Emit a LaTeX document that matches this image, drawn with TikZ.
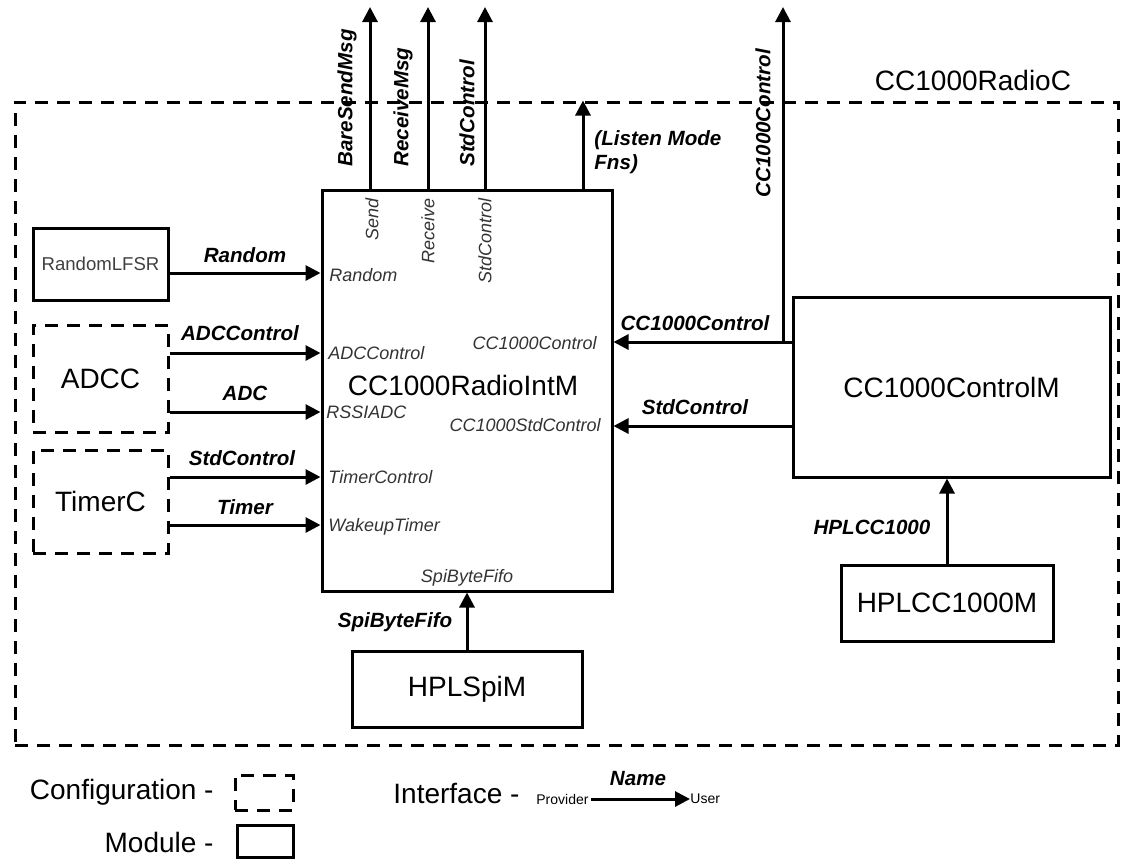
\documentclass[tikz,border=0pt]{standalone}
\usepackage{fontspec}
\setmainfont{Liberation Sans}
\usetikzlibrary{arrows.meta}
\begin{document}
\begin{tikzpicture}[x=0.5pt,y=-0.5pt,
  box/.style={draw, line width=1.5pt, inner sep=0pt},
  cfg/.style={box, dash pattern=on 6.5pt off 4.5pt},
  big/.style={font=\fontsize{14}{16}\selectfont},
  lbl/.style={font=\fontsize{10.3}{12}\selectfont\bfseries\itshape, inner sep=0pt},
  port/.style={font=\fontsize{9}{11}\selectfont\itshape, text=black!80, inner sep=0pt},
  small/.style={font=\fontsize{9.3}{11}\selectfont, text=black!75, inner sep=0pt},
  tiny/.style={font=\fontsize{7}{8}\selectfont, inner sep=0pt},
  arr/.style={line width=1.5pt, -{Triangle[length=7.5pt,width=7.5pt]}}]
\useasboundingbox (0,0) rectangle (1123,859);

% outer configuration
\node[cfg, minimum width=551.5pt, minimum height=321.5pt] (outer) at (566.5,423.5) {};
\node[big] (outerlbl) at (973,80) {CC1000RadioC};

% modules / configurations
\node[box, minimum width=145pt, minimum height=200.5pt] (intm) at (467,390.5) {};
\node[big] (intmlbl) at (463,385) {CC1000RadioIntM};
\node[box, minimum width=67.5pt, minimum height=36pt, small] (lfsr) at (100.5,264) {RandomLFSR};
\node[cfg, minimum width=67.5pt, minimum height=53.5pt, big] (adcc) at (100.5,378.5) {ADCC};
\node[cfg, minimum width=67.5pt, minimum height=51.5pt, big] (timerc) at (100.5,501.5) {TimerC};
\node[box, minimum width=158.5pt, minimum height=90pt, big] (ctrlm) at (951.5,387) {CC1000ControlM};
\node[box, minimum width=106pt, minimum height=38pt, big] (hplcc) at (947,603) {HPLCC1000M};
\node[box, minimum width=115pt, minimum height=38pt, big] (hplspi) at (467,689) {HPLSpiM};

% port labels inside CC1000RadioIntM
\node[port, anchor=west] (pRandom) at (329,275) {Random};
\node[port, anchor=west] (pADCControl) at (328,353) {ADCControl};
\node[port, anchor=west] (pRSSI) at (326,412) {RSSIADC};
\node[port, anchor=west] (pTimerControl) at (328,477) {TimerControl};
\node[port, anchor=west] (pWakeup) at (328,527) {WakeupTimer};
\node[port] (pSpi) at (467,578) {SpiByteFifo};
\node[port, anchor=east] (pCC) at (597,343) {CC1000Control};
\node[port, anchor=east] (pCCStd) at (601,425) {CC1000StdControl};
\node[port, rotate=90, anchor=east] (pSend) at (372,198) {Send};
\node[port, rotate=90, anchor=east] (pReceive) at (428,198) {Receive};
\node[port, rotate=90, anchor=east] (pStd) at (485,198) {StdControl};

% y levels of connectors
\coordinate (yRandom) at (0,273);
\coordinate (yADCControl) at (0,353);
\coordinate (yADC) at (0,412);
\coordinate (yStd) at (0,477);
\coordinate (yTimer) at (0,525);
\coordinate (yCC) at (783,342);
\coordinate (yCCStd) at (0,426);

% left connectors
\draw[arr] (lfsr.east |- yRandom) -- (intm.west |- yRandom);
\draw[arr] (adcc.east |- yADCControl) -- (intm.west |- yADCControl);
\draw[arr] (adcc.east |- yADC) -- (intm.west |- yADC);
\draw[arr] (timerc.east |- yStd) -- (intm.west |- yStd);
\draw[arr] (timerc.east |- yTimer) -- (intm.west |- yTimer);
\node[lbl] (lRandom) at (245,255) {Random};
\node[lbl] (lADCControl) at (240,333) {ADCControl};
\node[lbl] (lADC) at (245,393) {ADC};
\node[lbl] (lStd) at (242,458) {StdControl};
\node[lbl] (lTimer) at (245,507) {Timer};

% right connectors
\draw[arr] (ctrlm.west |- yCC) -- (intm.east |- yCC);
\draw[arr] (ctrlm.west |- yCCStd) -- (intm.east |- yCCStd);
\node[lbl] (lCC) at (695,323) {CC1000Control};
\node[lbl] (lCCStd) at (695,407) {StdControl};
\coordinate (tCC) at (783,7);
\draw[arr] (yCC) -- (tCC);
\node[lbl, rotate=90, anchor=west] (lCCup) at (763,198) {CC1000Control};

% bottom connectors
\draw[arr] (hplcc.north) -- (hplcc.north |- ctrlm.south);
\node[lbl] (lHPL) at (872,527) {HPLCC1000};
\draw[arr] (hplspi.north) -- (intm.south);
\node[lbl] (lSpi) at (395,622) {SpiByteFifo};

% top connectors
\coordinate (t1) at (370,7);
\coordinate (t2) at (428,7);
\coordinate (t3) at (485,7);
\coordinate (t4) at (583,0);
\draw[arr] (intm.north -| t1) -- (t1);
\draw[arr] (intm.north -| t2) -- (t2);
\draw[arr] (intm.north -| t3) -- (t3);
\draw[arr] (intm.north -| t4) -- (outer.north -| t4);
\node[lbl, rotate=90, anchor=west] (lBare) at (347,167) {BareSendMsg};
\node[lbl, rotate=90, anchor=west] (lRecv) at (403,167) {ReceiveMsg};
\node[lbl, rotate=90, anchor=west] (lStdTop) at (467,167) {StdControl};
\node[lbl, anchor=west, align=left] (lListen) at (594,152) {(Listen Mode\\Fns)};

% legend
\node[big, anchor=east, inner sep=0pt] (lgCfg) at (214,792) {Configuration -};
\node[cfg, minimum width=29pt, minimum height=17.5pt] (lgCfgBox) at (264,792.5) {};
\node[big, anchor=east, inner sep=0pt] (lgMod) at (214,842) {Module -};
\node[box, minimum width=28pt, minimum height=16pt] (lgModBox) at (265,841) {};
\node[big, anchor=west, inner sep=0pt] (lgIf) at (393,793) {Interface -};
\node[tiny, anchor=west] (lgProv) at (536,799) {Provider};
\node[tiny, anchor=west] (lgUser) at (690,799) {User};
\draw[arr] (lgProv.east) ++(2,0) coordinate (lgA) -- (lgUser.west |- lgA);
\node[lbl] (lgName) at (638,778) {Name};
\end{tikzpicture}
\end{document}
